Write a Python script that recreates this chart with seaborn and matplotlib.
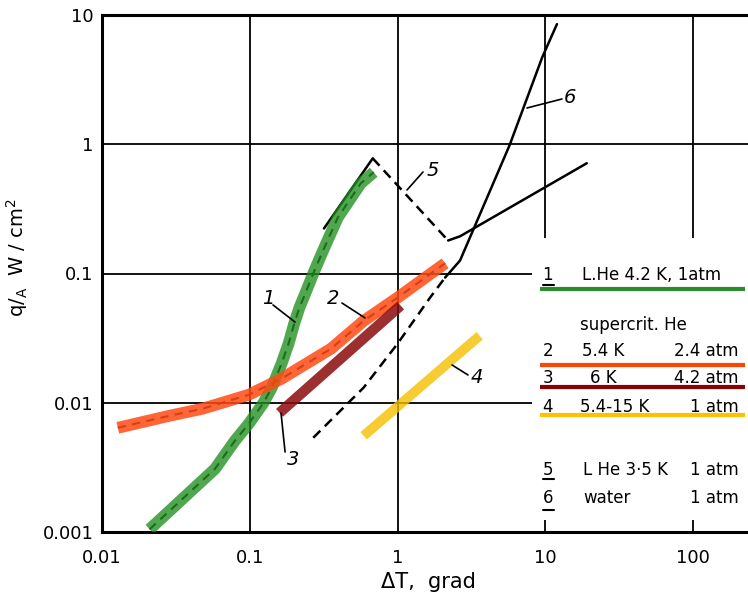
import matplotlib
matplotlib.use("Agg")
import matplotlib.pyplot as plt
from matplotlib.patches import Rectangle
from matplotlib.ticker import NullLocator
import seaborn as sns

# ---------------- data ----------------
# 1: L.He 4.2 K, 1 atm
c1_dT = [0.021, 0.0582, 0.0792, 0.0984, 0.124, 0.141, 0.164, 0.183, 0.200,
         0.217, 0.242, 0.269, 0.314, 0.395, 0.565, 0.69]
c1_q = [0.00105, 0.00308, 0.00507, 0.00687, 0.0100, 0.0131, 0.0200, 0.0286,
        0.041, 0.0545, 0.0738, 0.100, 0.151, 0.272, 0.499, 0.607]
# 2: supercritical He 5.4 K, 2.4 atm
c2_dT = [0.0128, 0.0286, 0.0477, 0.0984, 0.164, 0.355, 0.59, 1.0, 2.1]
c2_q = [0.0064, 0.00793, 0.00898, 0.01153, 0.01535, 0.0262, 0.043, 0.065, 0.12]
# 3: supercritical He 6 K, 4.2 atm
c3_dT = [0.159, 1.05]
c3_q = [0.00836, 0.0565]
# 4: supercritical He 5.4-15 K, 1 atm
c4_dT = [0.59, 3.6]
c4_q = [0.00555, 0.033]
# 5: L He 3.5 K 1 atm (nucleate, transition, film)
c5n_dT = [0.318, 0.68]
c5n_q = [0.223, 0.778]
c5t_dT = [0.68, 2.2]
c5t_q = [0.778, 0.18]
c5f_dT = [2.2, 2.65, 19.1]
c5f_q = [0.18, 0.194, 0.713]
# 6: water 1 atm (dashed lower part, solid boiling part)
c6d_dT = [0.269, 0.59, 1.0, 1.66, 2.1]
c6d_q = [0.00536, 0.0131, 0.0286, 0.065, 0.093]
c6s_dT = [2.1, 2.65, 3.24, 5.73, 9.55, 12.0]
c6s_q = [0.093, 0.126, 0.215, 0.98, 4.72, 8.5]

x_ticks = [0.01, 0.1, 1, 10, 100]
x_ticklabels = ["0.01", "0.1", "1", "10", "100"]
y_ticks = [0.001, 0.01, 0.1, 1, 10]
y_ticklabels = ["0.001", "0.01", "0.1", "1", "10"]

legend_rows = [
    ("1", "L.He 4.2 K, 1atm", ""),
    ("2", "5.4 K", "2.4 atm"),
    ("3", "6 K", "4.2 atm"),
    ("4", "5.4-15 K", "1 atm"),
    ("5", "L He 3·5 K", "1 atm"),
    ("6", "water", "1 atm"),
]

# ---------------- styling ----------------
sns.set_theme(style="white")
plt.rcParams['font.family'] = ['DejaVu Sans']
plt.rcParams['text.color'] = 'black'
plt.rcParams['axes.labelcolor'] = 'black'

GREEN = "#1f8f1f"
ORANGE = "#ff4a14"
DRED = "#8b0a0a"
GOLD = "#f5c000"

fig = plt.figure(figsize=(7.48, 6.01), dpi=100)
ax = fig.add_axes([102 / 748, 1 - 532 / 601, 646 / 748, 517 / 601])
ax.set_xscale("log")
ax.set_yscale("log")
ax.set_xlim(0.01, 10 ** (-2 + 646 / 147.75))
ax.set_ylim(0.001, 10)


def curve(x, y, **kw):
    sns.lineplot(x=x, y=y, ax=ax, sort=False, estimator=None, legend=False, **kw)


# dashed centre lines under the coloured bands
curve(c1_dT, c1_q, color="black", lw=1.5, linestyle=(0, (4, 3)), zorder=3)
curve(c2_dT, c2_q, color="black", lw=1.5, linestyle=(0, (4, 3)), zorder=3)
# coloured bands
curve(c1_dT, c1_q, color=GREEN, lw=8.5, alpha=0.78, zorder=4, solid_capstyle="butt")
curve(c2_dT, c2_q, color=ORANGE, lw=8.5, alpha=0.85, zorder=4, solid_capstyle="butt")
curve(c3_dT, c3_q, color=DRED, lw=7.5, alpha=0.85, zorder=5, solid_capstyle="butt")
curve(c4_dT, c4_q, color=GOLD, lw=7, alpha=0.8, zorder=4, solid_capstyle="butt")
# black curves 5 and 6
curve(c5n_dT, c5n_q, color="black", lw=1.8, zorder=3)
curve(c5t_dT, c5t_q, color="black", lw=1.8, linestyle=(0, (4, 2.5)), zorder=3)
curve(c5f_dT, c5f_q, color="black", lw=1.8, zorder=3)
curve(c6d_dT, c6d_q, color="black", lw=1.8, linestyle=(0, (4, 2.5)), zorder=3)
curve(c6s_dT, c6s_q, color="black", lw=1.8, zorder=3)

# curve number labels with leader lines
labels = [
    ("1", (0.133, 0.0646), (0.1437, 0.0571), (0.2025, 0.0421)),
    ("2", (0.366, 0.0646), (0.421, 0.0591), (0.603, 0.0453)),
    ("3", (0.196, 0.00361), (0.1628, 0.00833), (0.1734, 0.00416)),
    ("4", (3.45, 0.0158), (2.34, 0.0196), (3.0, 0.0164)),
    ("5", (1.739, 0.632), (1.16, 0.443), (1.488, 0.61)),
    ("6", (14.7, 2.32), (7.52, 1.908), (12.98, 2.24)),
]
for txt, tpos, p0, p1 in labels:
    ax.text(tpos[0], tpos[1], txt, fontsize=14, fontstyle="italic",
            ha="center", va="center", zorder=6)
    ax.plot([p0[0], p1[0]], [p0[1], p1[1]], color="black", lw=1.2, zorder=6)

# axes, grid, ticks
ax.set_axisbelow(True)
ax.grid(True, which="major", color="black", lw=1.3)
ax.set_xticks(x_ticks)
ax.set_xticklabels(x_ticklabels)
ax.set_yticks(y_ticks)
ax.set_yticklabels(y_ticklabels)
ax.xaxis.set_minor_locator(NullLocator())
ax.yaxis.set_minor_locator(NullLocator())
ax.tick_params(axis="x", length=0, pad=12, labelsize=13, colors="black")
ax.tick_params(axis="y", length=0, pad=6, labelsize=13, colors="black")
for side in ["left", "top", "bottom"]:
    ax.spines[side].set_color("black")
    ax.spines[side].set_linewidth(2.2)
ax.spines["right"].set_visible(False)

ax.set_xlabel("ΔT,  grad", fontsize=15, color="black")
ax.xaxis.set_label_coords(0.505, -0.077)
ax.set_ylabel(r"q/$_\mathregular{A}$  W / cm$^\mathregular{2}$", fontsize=14, color="black")
ax.yaxis.set_label_coords(-0.111, 0.530)

# white legend panel covering the grid
ax.add_patch(Rectangle((0.666, 0.023), 0.34, 0.546, transform=ax.transAxes,
                       facecolor="white", edgecolor="none", zorder=1.5, clip_on=False))

T = ax.transAxes
fs = 12
row_y = {"1": 0.497, "2": 0.350, "3": 0.298, "4": 0.242, "5": 0.120, "6": 0.066}
col2_x = {"1": 0.743, "2": 0.743, "3": 0.755, "4": 0.740, "5": 0.745, "6": 0.745}
for num, c2, c3 in legend_rows:
    y = row_y[num]
    ax.text(0.690, y, num, transform=T, fontsize=fs, ha="center", va="center", zorder=7)
    ax.text(col2_x[num], y, c2, transform=T, fontsize=fs, ha="left", va="center", zorder=7)
    if c3:
        ax.text(0.985, y, c3, transform=T, fontsize=fs, ha="right", va="center", zorder=7)
ax.text(0.822, 0.400, "supercrit. He", transform=T, fontsize=fs, ha="center",
        va="center", zorder=7)

# digit underlines
for uy in [0.478, 0.103, 0.043]:
    ax.plot([0.683, 0.700], [uy, uy], transform=T, color="black", lw=1.5, zorder=7,
            clip_on=False)
# coloured key lines
for uy, col in [(0.470, "#2a8c2a"), (0.323, "#ff4500"), (0.280, "#8b0000"),
                (0.226, "#ffc000")]:
    ax.plot([0.678, 0.995], [uy, uy], transform=T, color=col, lw=3, zorder=7,
            solid_capstyle="butt", clip_on=False)

fig.savefig("out.png", dpi=100)
